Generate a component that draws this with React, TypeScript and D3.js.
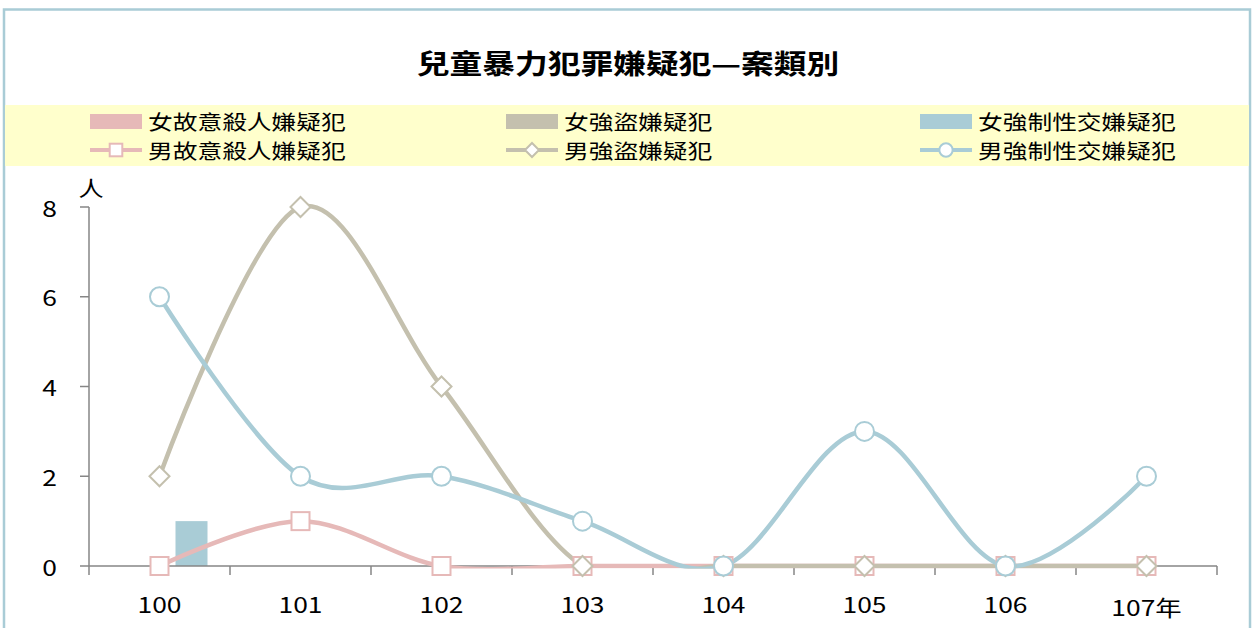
import React from "react";
import * as d3 from "d3";

const categories = ["100", "101", "102", "103", "104", "105", "106", "107"];
const femaleHomicide = [0, 0, 0, 0, 0, 0, 0, 0];
const femaleRobbery = [0, 0, 0, 0, 0, 0, 0, 0];
const femaleSexual = [1, 0, 0, 0, 0, 0, 0, 0];
const maleHomicide = [0, 1, 0, 0, 0, 0, 0, 0];
const maleRobbery = [2, 8, 4, 0, 0, 0, 0, 0];
const maleSexual = [6, 2, 2, 1, 0, 3, 0, 2];
const yTicks = [0, 2, 4, 6, 8];

const PINK = "#e6b9b8";
const GREY = "#c4c0ae";
const BLUE = "#a9ccd6";
const FONT = "'Noto Sans CJK TC', 'Noto Sans', sans-serif";
const SX = 1.2;

function SText({ x, y, size, anchor = "start", weight = 400, children }: any) {
  return (
    <text
      transform={`translate(${x},${y}) scale(${SX},1)`}
      fontSize={size}
      textAnchor={anchor}
      fontWeight={weight}
      fontFamily={FONT}
      fill="#000"
      dominantBaseline="central"
    >
      {children}
    </text>
  );
}

export default function App() {
  const W = 1253;
  const H = 628;
  const x = d3.scaleBand<string>().domain(categories).range([89, 1217]);
  const y = d3.scaleLinear().domain([0, 8]).range([566, 207]);
  const barSeries = [
    { name: "女故意殺人嫌疑犯", data: femaleHomicide, color: PINK },
    { name: "女強盜嫌疑犯", data: femaleRobbery, color: GREY },
    { name: "女強制性交嫌疑犯", data: femaleSexual, color: BLUE },
  ];
  const lineSeries = [
    { name: "男故意殺人嫌疑犯", data: maleHomicide, color: PINK, marker: "square" },
    { name: "男強盜嫌疑犯", data: maleRobbery, color: GREY, marker: "diamond" },
    { name: "男強制性交嫌疑犯", data: maleSexual, color: BLUE, marker: "circle" },
  ];
  const inner = d3.scaleBand<number>().domain([0, 1, 2]).range([-48, 48]);
  const cx = (c: string) => (x(c) as number) + x.bandwidth() / 2;
  const line = d3
    .line<number>()
    .x((_, i) => cx(categories[i]))
    .y((d) => y(d))
    .curve(d3.curveCardinal.tension(0));

  const marker = (type: string, px: number, py: number, color: string, key: any, big = 1) => {
    if (type === "square") {
      const s = 18 * big;
      return <rect key={key} x={px - s / 2} y={py - s / 2} width={s} height={s} fill="#fff" stroke={color} strokeWidth={2} />;
    }
    if (type === "diamond") {
      const s = 10 * big;
      return (
        <path key={key} d={`M${px},${py - s}L${px + s},${py}L${px},${py + s}L${px - s},${py}Z`} fill="#fff" stroke={color} strokeWidth={2} />
      );
    }
    return <circle key={key} cx={px} cy={py} r={9.5 * big} fill="#fff" stroke={color} strokeWidth={2} />;
  };

  const legendCols = [90, 506, 920];
  const legendRow = [121, 150];

  return (
    <svg width={W} height={H} style={{ position: "absolute", left: 0, top: 0 }}>
      <defs>
        <clipPath id="plotClip">
          <rect x={89} y={150} width={1140} height={y(0) + 2.5 - 150} />
        </clipPath>
      </defs>
      <rect x={0} y={0} width={W} height={H} fill="#fff" />
      <rect x={4} y={9.5} width={1246} height={640} fill="#fff" stroke="#a9ccd6" strokeWidth={2.5} />
      <SText x={628} y={62} size={27.3} anchor="middle" weight={700}>
        兒童暴力犯罪嫌疑犯—案類別
      </SText>
      <rect x={5} y={105} width={1244} height={61} fill="#ffffcc" />
      {barSeries.map((s, i) => (
        <g key={s.name}>
          <rect x={legendCols[i]} y={legendRow[0] - 7} width={52} height={15} fill={s.color} />
          <SText x={legendCols[i] + 58} y={legendRow[0]} size={20.6}>
            {s.name}
          </SText>
        </g>
      ))}
      {lineSeries.map((s, i) => (
        <g key={s.name}>
          <line x1={legendCols[i]} x2={legendCols[i] + 52} y1={legendRow[1]} y2={legendRow[1]} stroke={s.color} strokeWidth={4} />
          {marker(s.marker, legendCols[i] + 26, legendRow[1], s.color, "m", 0.7)}
          <SText x={legendCols[i] + 58} y={legendRow[1]} size={20.6}>
            {s.name}
          </SText>
        </g>
      ))}
      {/* axes */}
      <line x1={89} x2={89} y1={y(8)} y2={y(0)} stroke="#868686" strokeWidth={1.5} />
      {yTicks.map((t) => (
        <g key={t}>
          <line x1={80} x2={89} y1={y(t)} y2={y(t)} stroke="#868686" strokeWidth={1.5} />
          <SText x={57} y={y(t)} size={22} anchor="end">
            {t}
          </SText>
        </g>
      ))}
      <SText x={91} y={187} size={21} anchor="middle">
        人
      </SText>
      {/* bars */}
      {barSeries.map((s, si) =>
        s.data.map((v, i) =>
          v > 0 ? (
            <rect
              key={`${si}-${i}`}
              x={cx(categories[i]) + (inner(si) as number)}
              y={y(v)}
              width={inner.bandwidth()}
              height={y(0) - y(v)}
              fill={s.color}
            />
          ) : null
        )
      )}
      <line x1={89} x2={1217} y1={y(0)} y2={y(0)} stroke="#868686" strokeWidth={1.5} />
      {categories.map((c) => (
        <line key={c} x1={x(c)} x2={x(c)} y1={y(0)} y2={y(0) + 9} stroke="#868686" strokeWidth={1.5} />
      ))}
      <line x1={1217} x2={1217} y1={y(0)} y2={y(0) + 9} stroke="#868686" strokeWidth={1.5} />
      {categories.map((c, i) =>
        i === categories.length - 1 ? (
          <SText key={c} x={cx(c)} y={606} size={22} anchor="middle">
            {c + "年"}
          </SText>
        ) : (
          <SText key={c} x={cx(c)} y={603} size={22} anchor="middle">
            {c}
          </SText>
        )
      )}
      {/* lines */}
      <g clipPath="url(#plotClip)">
        {lineSeries.map((s) => (
          <path key={s.name} d={line(s.data) as string} fill="none" stroke={s.color} strokeWidth={4.5} />
        ))}
      </g>
      {lineSeries.map((s, si) => (
        <g key={s.name + "m"}>{s.data.map((v, i) => marker(s.marker, cx(categories[i]), y(v), s.color, `${si}-${i}`))}</g>
      ))}
    </svg>
  );
}
